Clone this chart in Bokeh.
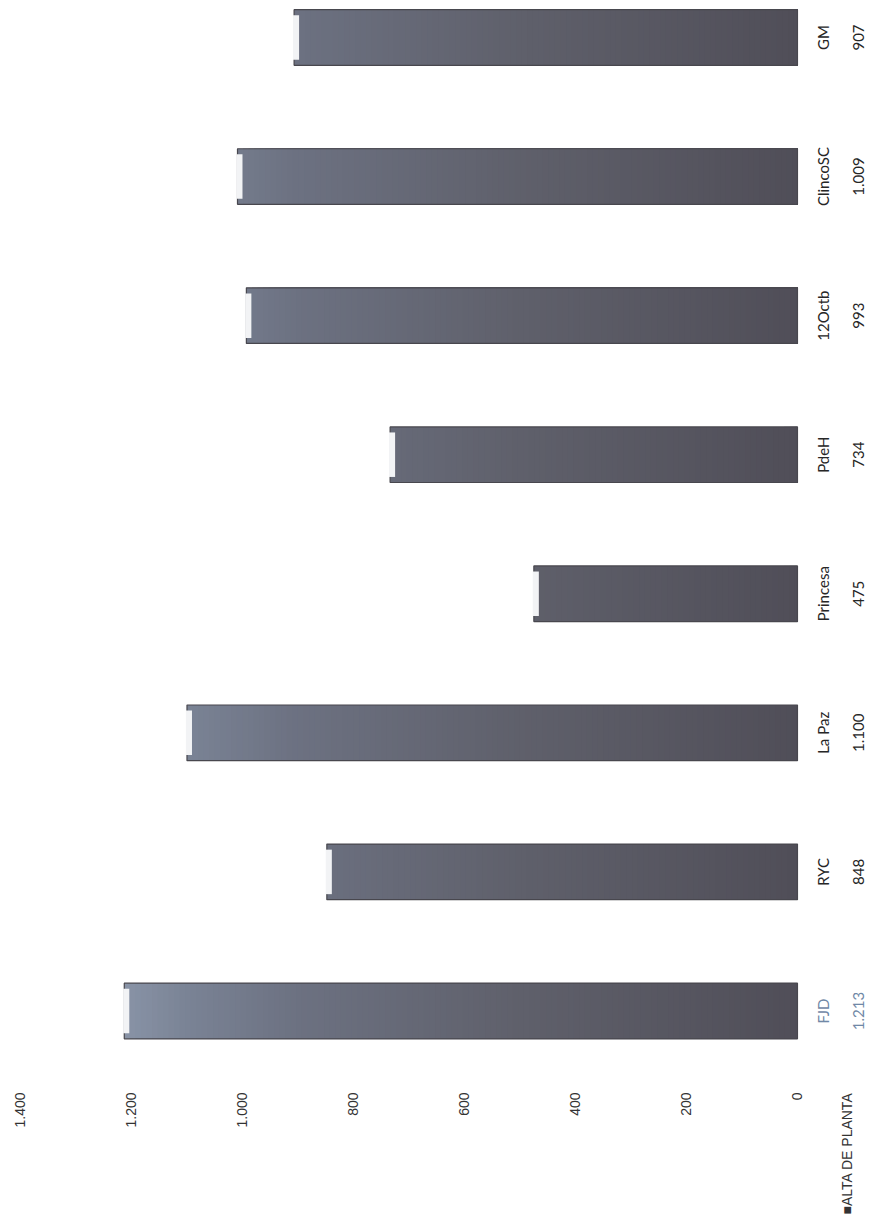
import math
from bokeh.plotting import figure
from bokeh.models import Range1d, FixedTicker, ColumnDataSource
from bokeh.core.properties import value
from bokeh.embed import file_html
from bokeh.resources import INLINE

# ---- data ----
categories = ["FJD", "RYC", "La Paz", "Princesa", "PdeH", "12Octb", "ClincoSC", "GM"]
values = [1213, 848, 1100, 475, 734, 993, 1009, 907]
value_ticks = [0, 200, 400, 600, 800, 1000, 1200, 1400]
series_name = "ALTA DE PLANTA"


def fmt(v):
    return f"{v:,}".replace(",", ".")


# ---- style helpers (gradient along the value axis) ----
stops = [(0, (80, 78, 88)), (500, (95, 96, 107)), (900, (108, 113, 129)),
         (1100, (122, 131, 149)), (1300, (148, 160, 180))]


def grad(v):
    for (a, ca), (b, cb) in zip(stops[:-1], stops[1:]):
        if v <= b:
            t = (v - a) / (b - a)
            c = [round(ca[k] + (cb[k] - ca[k]) * t) for k in range(3)]
            return "#%02x%02x%02x" % tuple(c)
    return "#%02x%02x%02x" % stops[-1][1]


idx = list(range(len(categories)))

W, H = 878, 1223
# the value axis runs right-to-left; the frame extends past 0 so that the
# category / value texts (drawn as glyphs) sit inside the frame
p = figure(width=W, height=H, output_backend="svg", toolbar_location=None,
           x_range=Range1d(1418, -146), y_range=Range1d(-0.5, 7.266),
           min_border_left=10, min_border_right=0, min_border_top=0,
           min_border_bottom=143)
p.outline_line_color = None
p.background_fill_color = "white"
p.border_fill_color = "white"
p.xgrid.visible = False
p.ygrid.visible = False
p.yaxis.visible = False

# gradient: nested bars from the full length inwards, each one shorter and
# darker, drawn on top of the previous one (no seams)
band = 10
seg = dict(y=[], left=[], color=[])
for i, v in zip(idx, values):
    hi = v
    while hi > 0:
        seg["y"].append(i)
        seg["left"].append(hi)
        seg["color"].append(grad(max(hi - band / 2, 0)))
        hi -= band
p.hbar(y="y", left="left", right=0, height=0.4, fill_color="color",
       line_color=None, source=ColumnDataSource(seg))

# outline of bars
p.hbar(y=idx, left=values, right=0, height=0.4, fill_color=None,
       line_color="#48474e", line_width=1.2)
# bevel highlight at bar ends
p.hbar(y=idx, left=[v + 2 for v in values], right=[v - 9 for v in values],
       height=0.32, fill_color="#f2f3f5", line_color=None)

# value axis (bottom); the legend entry shares this row, right of "0"
legend_pos = -90
ax = p.xaxis[0]
ax.ticker = FixedTicker(ticks=value_ticks + [legend_pos])
labels = {t: fmt(t) for t in value_ticks}
labels[legend_pos] = "\u25a0" + series_name
ax.major_label_overrides = labels
ax.major_label_orientation = math.pi / 2
ax.axis_line_color = None
ax.major_tick_line_color = None
ax.minor_tick_line_color = None
ax.major_tick_out = 0
ax.major_tick_in = 0
ax.major_label_standoff = 12
ax.major_label_text_font = "Liberation Sans"
ax.major_label_text_font_size = "14px"
ax.major_label_text_color = "#333333"

# category and value labels (data table) to the right of the bars
label_colors = ["#7088a6"] + ["#262626"] * (len(categories) - 1)
src = ColumnDataSource(dict(y=idx, x0=[0] * len(idx), cat=categories,
                            val=[fmt(v) for v in values], color=label_colors))
p.text(x="x0", y="y", text="cat", source=src, x_offset=26,
       angle=math.pi / 2, text_align="center", text_baseline="middle",
       text_font=value("Lato"), text_font_size="15px", text_color="color")
p.text(x="x0", y="y", text="val", source=src, x_offset=61,
       angle=math.pi / 2, text_align="center", text_baseline="middle",
       text_font=value("Lato"), text_font_size="15px", text_color="color")

open("out.html", "w").write(file_html(p, INLINE))
